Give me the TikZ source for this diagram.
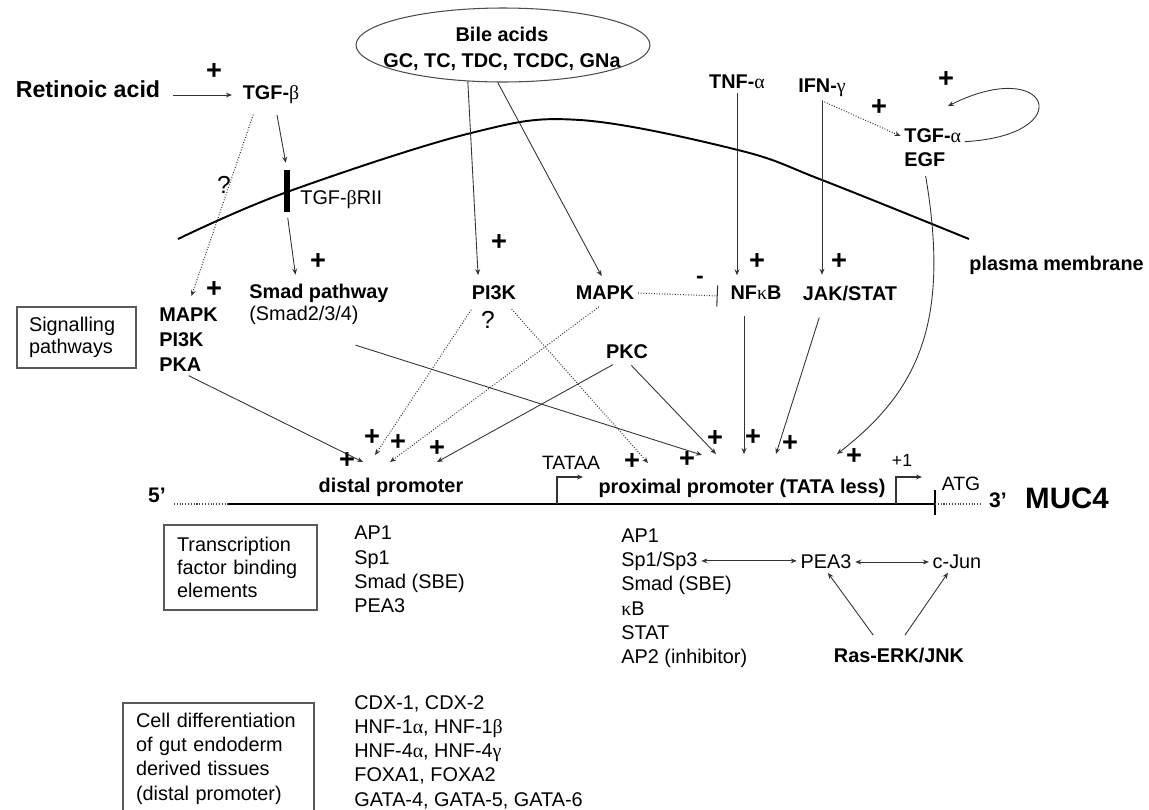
\documentclass[tikz,border=0pt]{standalone}
\usepackage{fontspec}
\setmainfont{Liberation Sans}
\newfontfamily\grk{Liberation Serif}
\newcommand{\gk}[1]{{\grk\mdseries #1}}
\usetikzlibrary{arrows.meta, positioning, shapes.geometric, calc}

\tikzset{
	lbl/.style={font=\fontsize{11.3}{14}\selectfont\bfseries, inner sep=2pt},
	txt/.style={font=\fontsize{11.3}{13.8}\selectfont, inner sep=2pt, align=left},
	plus/.style={font=\fontsize{15.5}{16}\selectfont\bfseries, inner sep=0pt},
	link/.style={-{Stealth[length=3.4pt,width=2.8pt]}, draw=black!80, line width=0.5pt},
	dlink/.style={link, densely dotted, line width=0.6pt},
	twoway/.style={link, {Stealth[length=3.4pt,width=2.8pt]}-{Stealth[length=3.4pt,width=2.8pt]}},
	infobox/.style={draw=black!65, line width=0.6pt, align=left, inner ysep=0pt},
}

\begin{document}
\begin{tikzpicture}[x=0.02cm, y=-0.02cm]
	\useasboundingbox (0,0) rectangle (1149,809);
	
	% Outside signals
	\node[lbl, font=\fontsize{13.2}{15}\selectfont\bfseries] (ra) at (88,89) {Retinoic acid};
	\node[lbl] (tgfb) at (271,95) {TGF-\gk{β}};
	\node[ellipse, draw=black!70, line width=0.6pt, minimum width=5.88cm, minimum height=1.48cm] (bile) at (503,45) {};
	\node[lbl, align=center, font=\fontsize{11.3}{14.7}\selectfont\bfseries] (biletxt) at (502,49) {Bile acids\\GC, TC, TDC, TCDC, GNa};
	\node[lbl] (tnfa) at (737,82) {TNF-\gk{α}};
	\node[lbl] (ifng) at (822,88) {IFN-\gk{γ}};
	\node[lbl, anchor=west] (tgfa) at (900.5,136) {TGF-\gk{α}};
	\node[lbl, anchor=west] (egf) at (900.5,160) {EGF};
	
	% Receptor and membrane
	\node[fill=black, minimum width=0.12cm, minimum height=0.84cm, inner sep=0pt] (rii) at (287,191) {};
	\node[txt, anchor=west] (riilbl) at (296.5,200) {TGF-\gk{β}RII};
	\draw[line width=1.1pt] plot[smooth, tension=0.6] coordinates {(178,239) (287,192) (471,133) (580,120) (738,150) (822,180) (969,239)};
	\node[lbl, anchor=west] (pm) at (965.5,265) {plasma membrane};
	
	% Signalling pathways
	\node[infobox, font=\fontsize{11.3}{12.5}\selectfont, text width=1.9cm, minimum height=1.22cm, inner xsep=0.24cm] (sigbox) at (76.5,337.5) {Signalling\\pathways};
	\node[lbl, align=left, anchor=west, font=\fontsize{11.3}{14.2}\selectfont\bfseries] (sig) at (155.5,340) {MAPK\\PI3K\\PKA};
	\node[lbl, anchor=west] (smad) at (245.5,293) {Smad pathway};
	\node[txt, anchor=west] (smadsub) at (245.5,315) {(Smad2/3/4)};
	\node[lbl] (pi3k) at (494,293) {PI3K};
	\node[lbl] (mapk) at (605,293) {MAPK};
	\node[lbl] (nfkb) at (756,293) {NF\gk{κ}B};
	\node[lbl] (jak) at (850,293) {JAK/STAT};
	\node[lbl] (pkc) at (627,352) {PKC};
	\node[lbl, font=\fontsize{13}{14}\selectfont\bfseries] (minus) at (700,280) {-};
	\node[txt, font=\fontsize{14}{16}\selectfont] (q1) at (224,185) {?};
	\node[txt, font=\fontsize{14}{16}\selectfont] (q2) at (488,320) {?};
	
	% MUC4 gene
	\draw[densely dotted, black!70, line width=0.6pt] (174,504) -- (228,504);
	\draw[line width=0.7pt] (228,504) -- (935,504);
	\draw[line width=0.7pt] (935,490) -- (935,515);
	\draw[densely dotted, black!70, line width=0.6pt] (935,504) -- (982,504);
	\draw[link, line width=0.7pt] (557,504) |- (583,477);
	\draw[link, line width=0.7pt] (896,504) |- (922,477);
	\node[lbl, font=\fontsize{12}{14}\selectfont\bfseries] (five) at (157,495) {5’};
	\node[lbl] (distal) at (391,487) {distal promoter};
	\node[lbl] (proximal) at (742,488) {proximal promoter (TATA less)};
	\node[txt, font=\fontsize{11}{13}\selectfont] (tataa) at (571,463) {TATAA};
	\node[txt, font=\fontsize{10}{12}\selectfont] (start) at (902,460) {+1};
	\node[txt, font=\fontsize{11}{13}\selectfont] (atg) at (961,484) {ATG};
	\node[lbl, font=\fontsize{12}{14}\selectfont\bfseries] (three) at (998,500) {3’};
	\node[lbl, font=\fontsize{16.8}{18}\selectfont\bfseries] (muc) at (1067,498) {MUC4};
	
	% Arrow ends on the promoters
	\coordinate (dpka) at (363,462);
	\coordinate (dpi) at (375,455);
	\coordinate (dmapk) at (390,462);
	\coordinate (dpkc) at (437,462);
	\coordinate (ppi) at (648,463);
	\coordinate (psmad) at (702,455);
	\coordinate (ppkc) at (716,454);
	\coordinate (pnf) at (744,454);
	\coordinate (pjak) at (776,454);
	\coordinate (pegf) at (837,454);
	
	% Connectors
	\draw[link, shorten <=5pt, shorten >=4pt] (ra.east |- tgfb) -- (tgfb.west);
	\draw[link, shorten <=4pt, shorten >=4pt] (tgfb.-70) -- (rii.north);
	\draw[link, shorten <=3pt, shorten >=3pt] (rii.south) -- (smad.150);
	\draw[dlink, shorten <=4pt, shorten >=5pt] (tgfb.220) -- (sig.north);
	\draw[link, shorten >=4pt] (bile.226) -- (pi3k.145);
	\draw[link, shorten >=4pt] (bile.262) -- (mapk.north);
	\draw[link, shorten >=4pt] (tnfa.south) -- (tnfa.south |- nfkb.north);
	\draw[link, shorten >=4pt] (ifng.south) -- (ifng.south |- jak.north);
	\draw[dlink] (ifng.south) -- (tgfa.west);
	\draw[link] (tgfa.-10) .. controls (1080,135) and (1050,55) .. ($(tgfa.north east)+(-17,-19)$);
	\draw[link, shorten <=3pt] (egf.south) .. controls (950,320) and (920,390) .. (pegf);
	\draw[dlink, shorten <=4pt] (pi3k.210) -- (dpi);
	\draw[dlink, shorten <=4pt] (pi3k.-40) -- (ppi);
	\draw[dlink, shorten <=3pt] (mapk.-100) -- (dmapk);
	\draw[dlink, -{Bar[width=12pt]}] (mapk.east) -- ($(nfkb.west)+(-9,3)$);
	\draw[link] (sig.south) -- (dpka);
	\draw[link] ($(smadsub.south east)+(-7,17)$) -- (psmad);
	\draw[link, shorten <=2pt] (pkc.225) -- (dpkc);
	\draw[link, shorten <=2pt] (pkc.-80) -- (ppkc);
	\draw[link, shorten <=7pt] (nfkb.south -| pnf) -- (pnf);
	\draw[link, shorten <=8pt] (jak.-157) -- (pjak);
	
	% Plus signs
	\node[plus] (plus1) at (214,72) {+};
	\node[plus] (plus2) at (318,262) {+};
	\node[plus] (plus3) at (214,290) {+};
	\node[plus] (plus4) at (499,243) {+};
	\node[plus] (plus5) at (757,262) {+};
	\node[plus] (plus6) at (839,262) {+};
	\node[plus] (plus7) at (879,108) {+};
	\node[plus] (plus8) at (946,80) {+};
	\node[plus] (plus9) at (372,438) {+};
	\node[plus] (plus10) at (398,443) {+};
	\node[plus] (plus11) at (437,449) {+};
	\node[plus] (plus12) at (347,461) {+};
	\node[plus] (plus13) at (715,439) {+};
	\node[plus] (plus14) at (753,438) {+};
	\node[plus] (plus15) at (790,444) {+};
	\node[plus] (plus16) at (687,460) {+};
	\node[plus] (plus17) at (632,462) {+};
	\node[plus] (plus18) at (854,457) {+};
	
	% Transcription factor binding elements
	\node[infobox, font=\fontsize{11.3}{13.3}\selectfont, text width=2.54cm, minimum height=1.7cm, inner xsep=0.26cm] (tfbox) at (240.5,567.5) {Transcription\\factor binding\\elements};
	\node[txt, anchor=west] (dtf) at (350.5,569.5) {AP1\\Sp1\\Smad (SBE)\\PEA3};
	\node[txt, anchor=base west] (ptf1) at (617.5,542) {AP1};
	\node[txt, anchor=base west] (sp) at (617.5,566) {Sp1/Sp3};
	\node[txt, anchor=base west] (ptf3) at (617.5,590) {Smad (SBE)};
	\node[txt, anchor=base west] (ptf4) at (617.5,615) {\gk{κ}B};
	\node[txt, anchor=base west] (ptf5) at (617.5,639) {STAT};
	\node[txt, anchor=base west] (ptf6) at (617.5,663) {AP2 (inhibitor)};
	\node[txt] (pea) at (826,562) {PEA3};
	\node[txt] (cjun) at (957,562) {c-Jun};
	\node[lbl] (ras) at (899,655) {Ras-ERK/JNK};
	\draw[twoway] (sp.east) -- (pea.west |- sp.east);
	\draw[twoway] (pea.east) -- (cjun.west);
	\draw[link, shorten <=6pt] (ras.150) -- (pea.-80);
	\draw[link, shorten <=6pt] (ras.north) -- (cjun.-130);
	
	% Cell differentiation
	\node[infobox, font=\fontsize{11.3}{13.8}\selectfont, text width=3.3cm, minimum height=2.22cm, inner xsep=0.26cm] (cellbox) at (218.5,758.5) {Cell differentiation\\of gut endoderm\\derived tissues\\(distal promoter)};
	\node[txt, anchor=west] (difftf) at (350.5,752) {CDX-1, CDX-2\\HNF-1\gk{α}, HNF-1\gk{β}\\HNF-4\gk{α}, HNF-4\gk{γ}\\FOXA1, FOXA2\\GATA-4, GATA-5, GATA-6};
\end{tikzpicture}
\end{document}
